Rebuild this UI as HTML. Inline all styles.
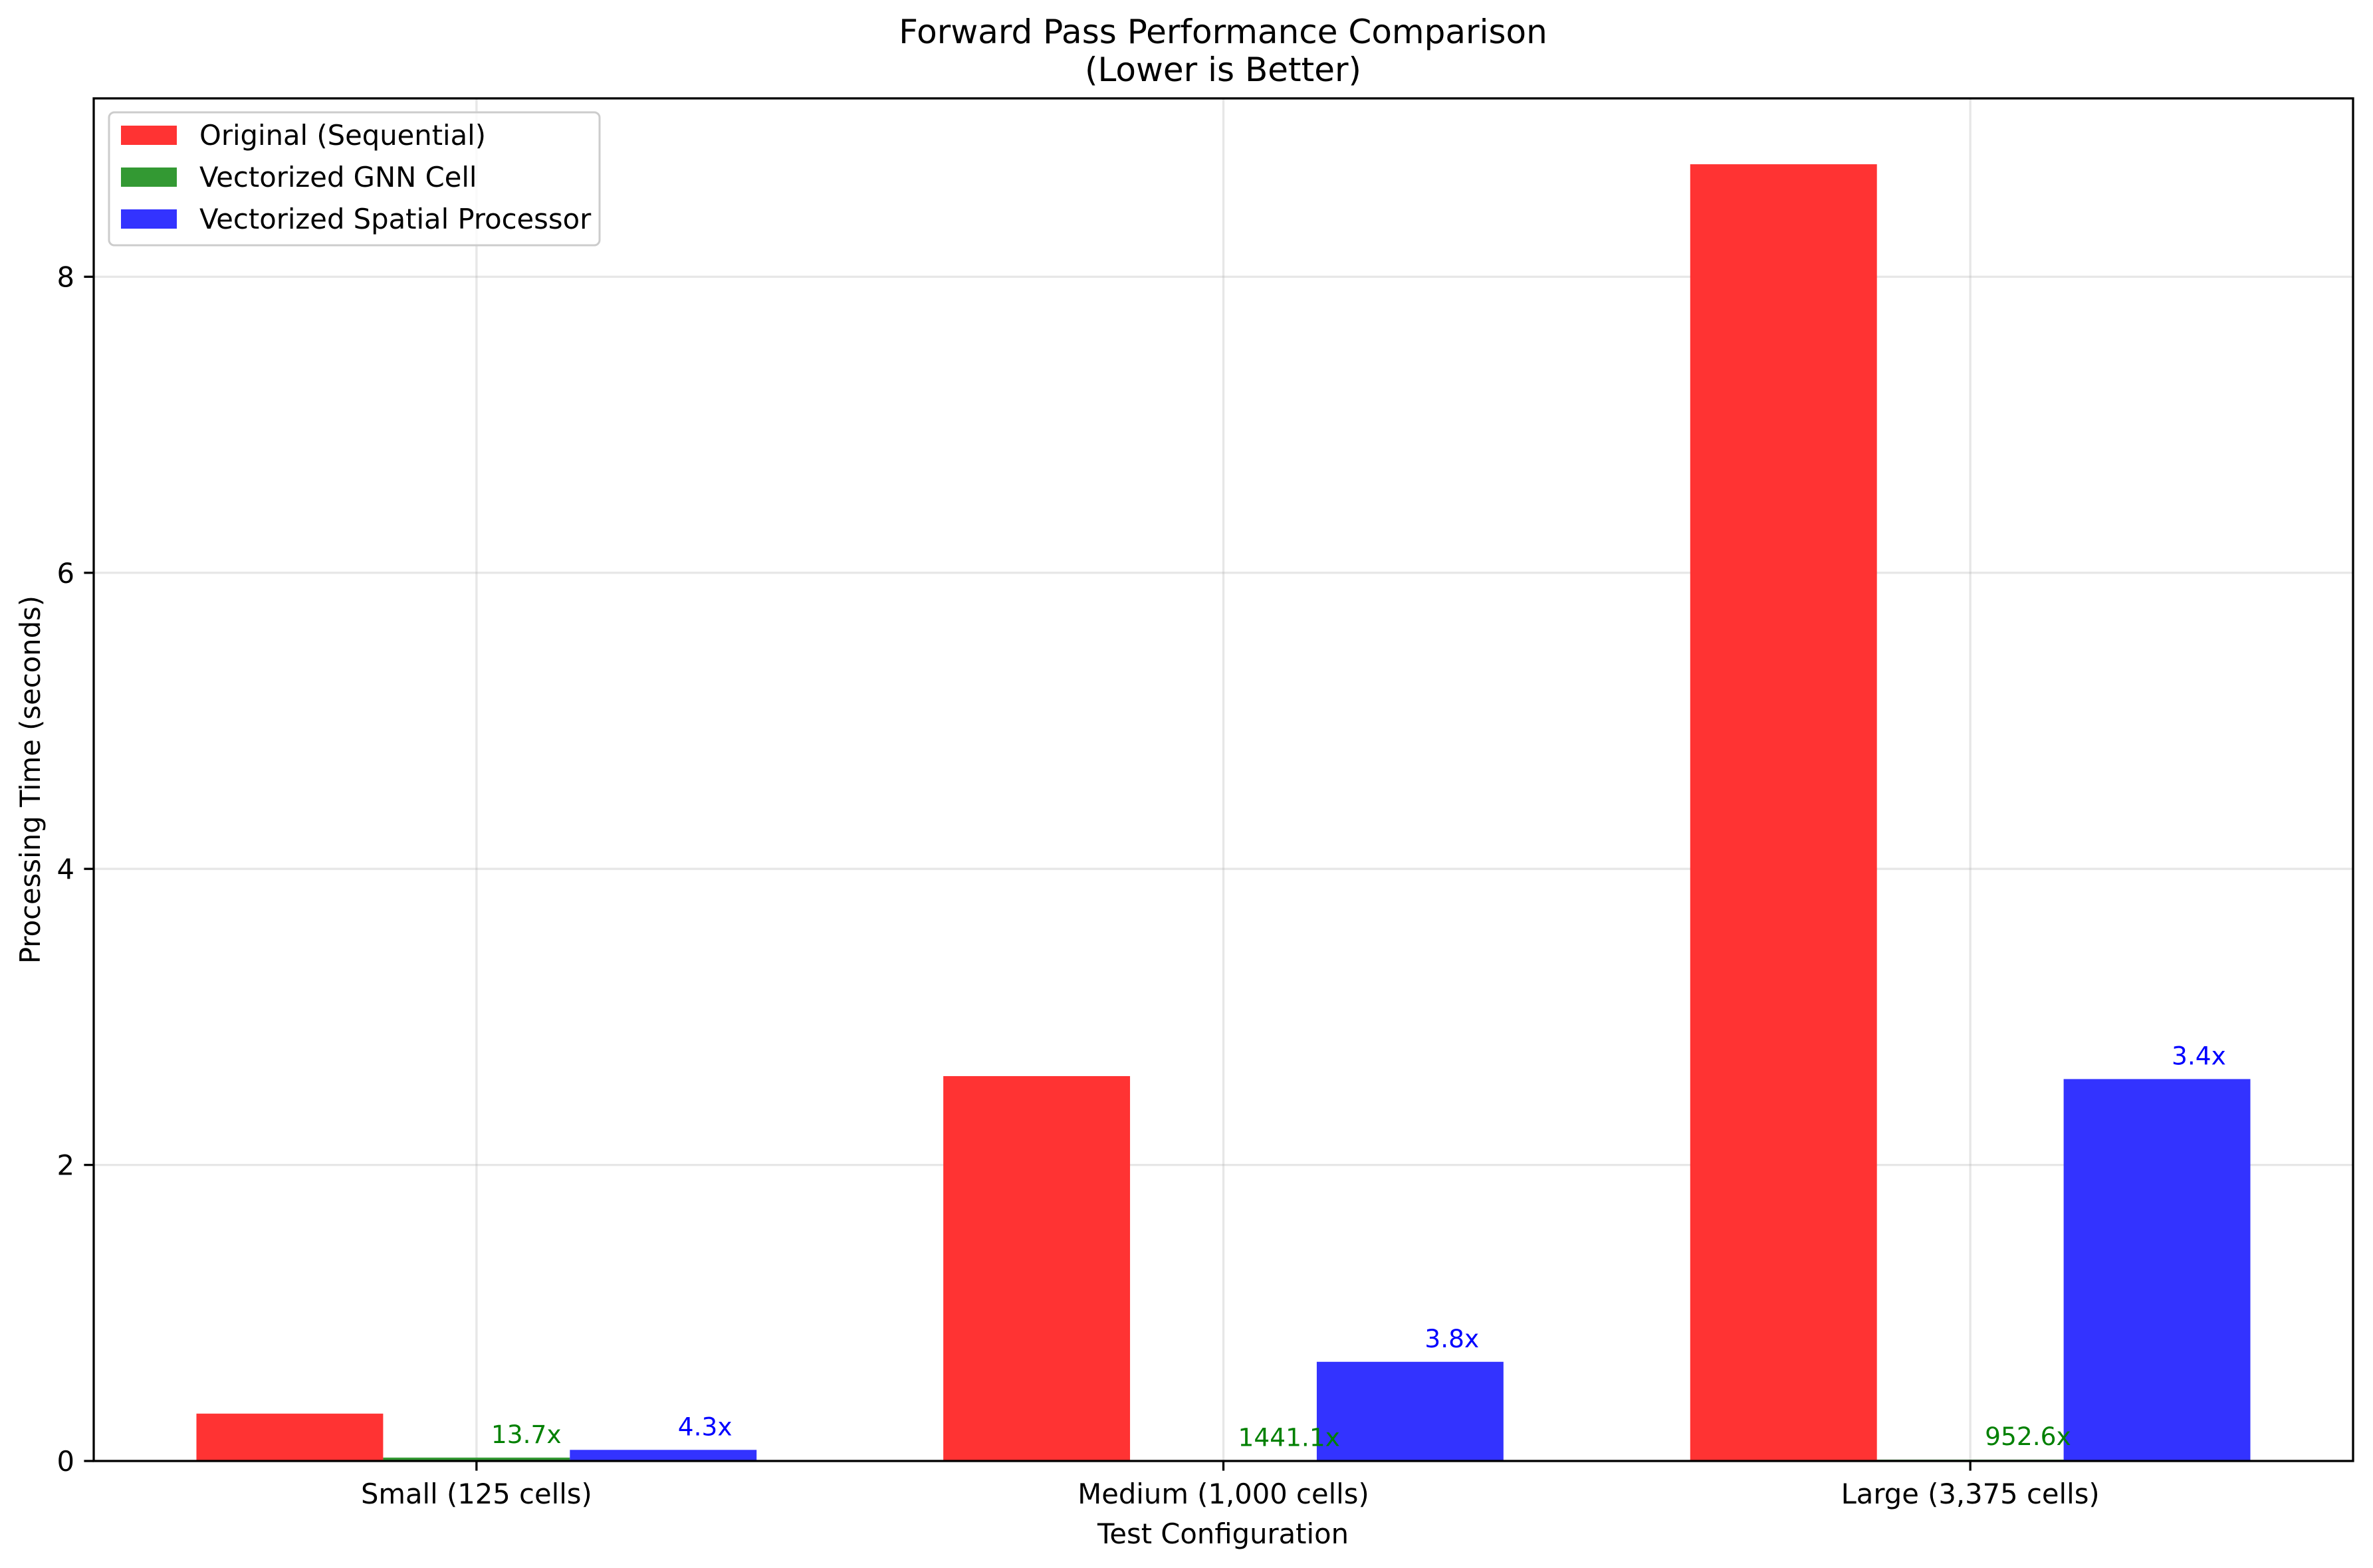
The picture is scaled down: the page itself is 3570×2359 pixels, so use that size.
<!DOCTYPE html>
<html><head><meta charset="utf-8">
<style>
html,body{margin:0;padding:0;background:#fff;}
svg{display:block;font-family:"DejaVu Sans","Liberation Sans",sans-serif;}
</style></head>
<body>
<svg id="chart" width="3570" height="2359" viewBox="0 0 3570 2359" xmlns="http://www.w3.org/2000/svg">
<rect width="3570" height="2359" fill="#fff"/>
<text x="1840" y="65" text-anchor="middle" font-size="50">Forward Pass Performance Comparison</text>
<text x="1840" y="122" text-anchor="middle" font-size="50">(Lower is Better)</text>
<g id="grid"></g>
<g id="bars"></g>
<g id="labels"></g>
<rect x="141" y="148" width="3399" height="2050" fill="none" stroke="#000" stroke-width="3.3"/>
<g id="ticks"></g>
<text x="1840" y="2322" text-anchor="middle" font-size="41.7">Test Configuration</text>
<text transform="translate(60,1173) rotate(-90)" text-anchor="middle" font-size="41.7">Processing Time (seconds)</text>
<g>
<rect x="164" y="169" width="738" height="200" rx="8" fill="#fff" fill-opacity="0.8" stroke="#ccc" stroke-width="3"/>
<rect x="182" y="189" width="84" height="29" fill="#ff3333"/>
<text x="300" y="218" font-size="41.7">Original (Sequential)</text>
<rect x="182" y="252" width="84" height="29" fill="#339933"/>
<text x="300" y="281" font-size="41.7">Vectorized GNN Cell</text>
<rect x="182" y="315" width="84" height="29" fill="#3333ff"/>
<text x="300" y="344" font-size="41.7">Vectorized Spatial Processor</text>
</g>
</svg>
<script>
const categories = ["Small (125 cells)", "Medium (1,000 cells)", "Large (3,375 cells)"];
const original = [0.32, 2.60, 8.76];
const gnn = [0.023, 0.0018, 0.0092];
const spatial = [0.075, 0.67, 2.58];
const gnnSpeedup = ["13.7x", "1441.1x", "952.6x"];
const spatialSpeedup = ["4.3x", "3.8x", "3.4x"];
const yTicks = [0, 2, 4, 6, 8];

const NS = "http://www.w3.org/2000/svg";
const L = 141, R = 3540, T = 148, B = 2198;
const xMin = -0.5125, xMax = 2.5125, yMin = 0, yMax = 9.205;
const xs = v => L + (v - xMin) / (xMax - xMin) * (R - L);
const ys = v => B - (v - yMin) / (yMax - yMin) * (B - T);
const W = 0.25;
function mk(tag, attrs, parent) {
  const e = document.createElementNS(NS, tag);
  for (const k in attrs) e.setAttribute(k, attrs[k]);
  parent.appendChild(e);
  return e;
}
const grid = document.getElementById('grid');
const bars = document.getElementById('bars');
const labels = document.getElementById('labels');
const ticks = document.getElementById('ticks');

yTicks.forEach(t => {
  const g = mk('line', {x1: L, x2: R, y1: ys(t), y2: ys(t), stroke: '#b0b0b0', 'stroke-opacity': 0.3, 'stroke-width': 3.3}, grid);
  
  
  const tk = mk('line', {x1: L - 14.6, x2: L, y1: ys(t), y2: ys(t), stroke: '#000', 'stroke-width': 3.3}, ticks);
  
  
  const tl = mk('text', {x: L - 29, y: ys(t) + 15, 'text-anchor': 'end', 'font-size': 41.7}, ticks);
  tl.textContent = t;
  
  
});
categories.forEach((c, i) => {
  const g = mk('line', {x1: xs(i), x2: xs(i), y1: T, y2: B, stroke: '#b0b0b0', 'stroke-opacity': 0.3, 'stroke-width': 3.3}, grid);
  
  
  const tk = mk('line', {x1: xs(i), x2: xs(i), y1: B, y2: B + 14.6, stroke: '#000', 'stroke-width': 3.3}, ticks);
  
  
  const tl = mk('text', {x: xs(i), y: B + 64, 'text-anchor': 'middle', 'font-size': 41.7}, ticks);
  tl.textContent = c;
  
  
});
const series = [
  {vals: original, off: -W, color: '#ff3333', name: 'original'},
  {vals: gnn, off: 0, color: '#339933', name: 'gnn', lab: gnnSpeedup, lc: 'green'},
  {vals: spatial, off: W, color: '#3333ff', name: 'spatial', lab: spatialSpeedup, lc: 'blue'}
];
series.forEach(s => {
  s.vals.forEach((v, i) => {
    const x0 = xs(i + s.off - W / 2), x1 = xs(i + s.off + W / 2);
    const r = mk('rect', {x: x0, y: ys(v), width: x1 - x0, height: ys(0) - ys(v), fill: s.color}, bars);
    
    
    if (s.lab) {
      const t = mk('text', {x: xs(i + s.off) + 22, y: ys(v) - 22, 'font-size': 37.5, fill: s.lc}, labels);
      t.textContent = s.lab[i];
      
      
    }
  });
});
</script>
</body></html>
